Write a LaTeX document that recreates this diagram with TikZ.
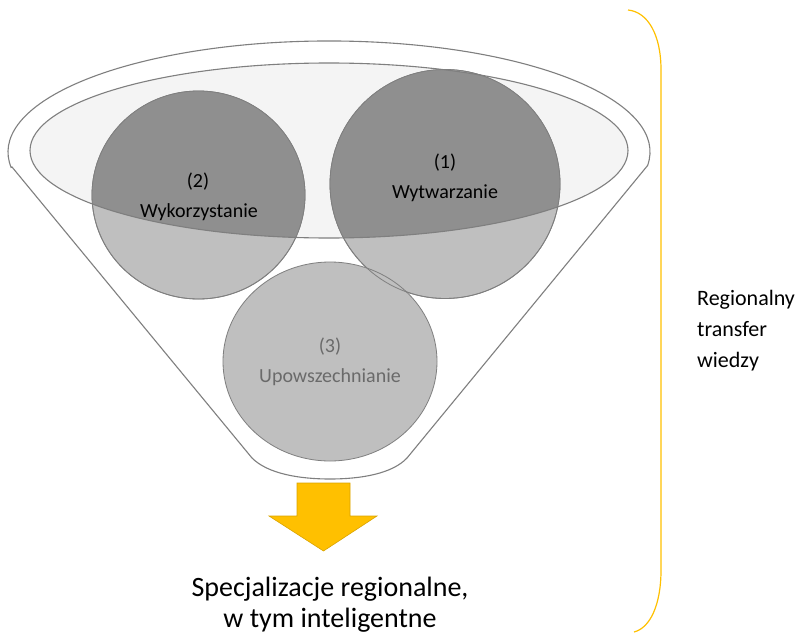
\documentclass[tikz,border=0pt]{standalone}
\usepackage{fontspec}
\setmainfont{Carlito}
\usetikzlibrary{calc}
\definecolor{edgegray}{HTML}{7F7F7F}
\definecolor{lightfill}{HTML}{BFBFBF}
\definecolor{darkfill}{HTML}{8F8F8F}
\definecolor{innerfill}{HTML}{F4F4F4}
\definecolor{gold}{HTML}{FFC000}
\definecolor{golddark}{HTML}{D9A300}
\definecolor{txtgray}{HTML}{6A6A6A}
\tikzset{
  funnelline/.style={draw=edgegray, line width=1.1pt},
  ballshape/.style={draw=edgegray, line width=0.8pt, fill=lightfill},
  balltext/.style={font=\fontsize{20}{24}\selectfont, anchor=base, inner sep=0pt},
}
\begin{document}
\begin{tikzpicture}[x=1pt,y=-1pt]
\useasboundingbox (0,0) rectangle (799,634);
% outer funnel
\path[funnelline, fill=white] (12,167) -- (252,458)
  .. controls (268,474) and (300,479) .. (330,479)
  .. controls (360,479) and (392,474) .. (407,458)
  -- (647.6,165.5) arc[start angle=7, end angle=-188, x radius=321, y radius=111] -- cycle;
% inner ellipse
\fill[innerfill] (329,150.5) ellipse [x radius=299, y radius=87.5];
% balls
\path[ballshape] (445,184) ellipse [x radius=115, y radius=114.5];
\path[ballshape] (198.5,195) ellipse [x radius=106.5, y radius=104];
\path[ballshape] (330,361.5) ellipse [x radius=107, y radius=99.5];
\begin{scope}
  \clip (329,150.5) ellipse [x radius=299, y radius=87.5];
  \fill[darkfill] (445,184) ellipse [x radius=115, y radius=114.5];
  \fill[darkfill] (198.5,195) ellipse [x radius=106.5, y radius=104];
\end{scope}
\draw[edgegray, line width=0.8pt] (445,184) ellipse [x radius=115, y radius=114.5];
\draw[edgegray, line width=0.8pt] (198.5,195) ellipse [x radius=106.5, y radius=104];
\draw[edgegray, line width=1.1pt] (329,150.5) ellipse [x radius=299, y radius=87.5];
% labels
\node[balltext] (n2) at (198,187) {(2)};
\node[balltext] (w2) at (199,217) {Wykorzystanie};
\node[balltext] (n1) at (445,168) {(1)};
\node[balltext] (w1) at (445,198) {Wytwarzanie};
\node[balltext, text=txtgray] (n3) at (330,352) {(3)};
\node[balltext, text=txtgray] (w3) at (330,382) {Upowszechnianie};
% yellow arrow
\path[fill=gold, draw=golddark, line width=0.6pt]
  (297,483) -- (350,483) -- (350,516) -- (377,516) -- (323.5,551)
  -- (269,516) -- (297,516) -- cycle;
\node[font=\fontsize{28}{31}\selectfont, align=center, inner sep=0pt, anchor=base]
  (res) at (330,627) {Specjalizacje regionalne,\\w tym inteligentne};
% bracket
\draw[gold, line width=1.2pt] (628,10) .. controls (648,12) and (661,35) .. (661,70)
  -- (661,570) .. controls (661,605) and (650,628) .. (634,632);
\node[font=\fontsize{22}{31}\selectfont, align=left, inner sep=0pt, anchor=base west]
  (side) at (697,367) {Regionalny\\transfer\\wiedzy};
\end{tikzpicture}
\end{document}
